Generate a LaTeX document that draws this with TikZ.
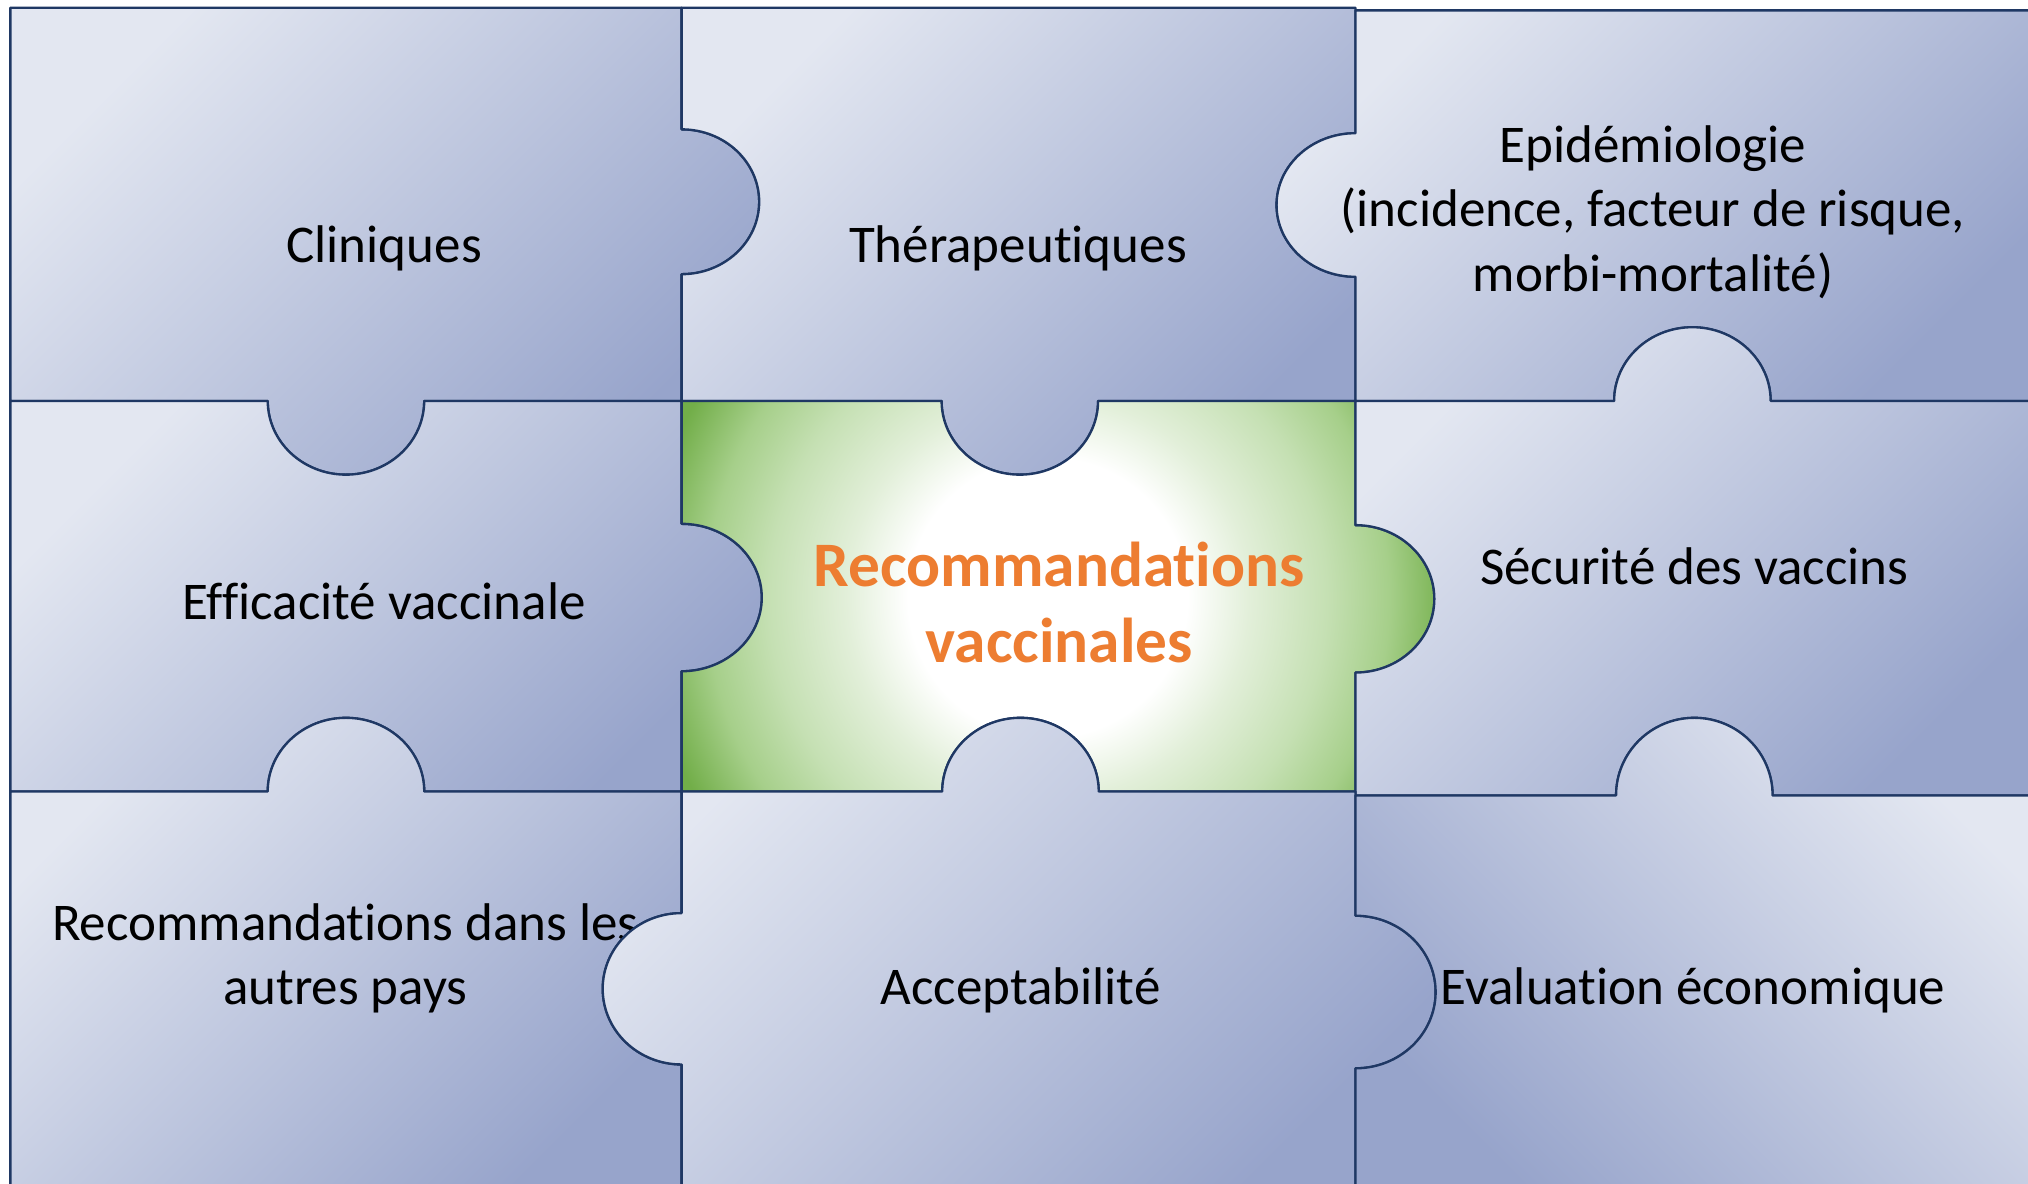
\documentclass[tikz,border=0pt]{standalone}
\usepackage{fontspec}
\setmainfont{Carlito}[Ligatures={NoCommon,NoRequired,NoContextual},RawFeature={-liga;-clig;-calt;-dlig}]
\newcommand\tix{t\kern0pt i}
\definecolor{edge}{HTML}{1F3864}
\definecolor{lite}{HTML}{E3E7F1}
\definecolor{dark}{HTML}{97A4CB}
\definecolor{orng}{HTML}{ED7D31}
\definecolor{gA}{HTML}{E2EFD9}
\definecolor{gB}{HTML}{C5E0B3}
\definecolor{gC}{HTML}{A6CF8A}
\definecolor{gD}{HTML}{72AE49}
\pgfdeclareradialshading{greenglow}{\pgfpoint{0bp}{0bp}}{color(0bp)=(white); color(9bp)=(white); color(13bp)=(gA); color(18bp)=(gB); color(22bp)=(gC); color(26bp)=(gD); color(50bp)=(gD)}
\tikzset{
  piece/.style={draw=edge, line width=1.8pt, line join=round, top color=lite, bottom color=dark, shading angle=45},
  pieceflip/.style={piece, shading angle=-45},
  greenedge/.style={draw=edge, line width=1.8pt, line join=round},
  lbl/.style={font=\fontsize{41}{50}\selectfont, align=center, inner sep=0pt, text=black},
  bigl/.style={font=\fontsize{49}{59}\selectfont\bfseries, align=center, inner sep=0pt, text=orng}
}
\begin{document}
\begin{tikzpicture}[x=1pt,y=-1pt]
\useasboundingbox (0,0) rectangle (1568,915);
\fill[white] (0,0) rectangle (1568,915);
\begin{scope}
\clip (0,0) rectangle (1568,915);
% Cliniques
\path[piece] (8,6) -- (527,6) -- (527,100) arc[start angle=270,end angle=450,x radius=60,y radius=56] -- (527,310) -- (328,310) arc[start angle=0,end angle=180,x radius=60.5,y radius=57] -- (8,310) -- cycle;
\node[lbl] (cliniques) at (297,192) {Cliniques};
% Therapeutiques
\path[piece] (527,6) -- (1048,6) -- (1048,103) arc[start angle=270,end angle=90,x radius=61,y radius=55.5] -- (1048,310) -- (849,310) arc[start angle=0,end angle=180,x radius=60.5,y radius=57] -- (527,310) -- (527,212) arc[start angle=90,end angle=-90,x radius=60,y radius=56] -- cycle;
\node[lbl] (therap) at (787,192) {Thérapeu\tix ques};
% Epidemiologie
\path[piece] (1048,8) -- (1572,8) -- (1572,310) -- (1369,310) arc[start angle=0,end angle=-180,x radius=60.5,y radius=57] -- (1048,310) -- (1048,214) arc[start angle=90,end angle=270,x radius=61,y radius=55.5] -- cycle;
\node[lbl] (epid) at (1278,164) {Epidémiologie\\(incidence, facteur de risque,\\morbi-mortalité)};
% Efficacite
\path[piece] (8,310) -- (207,310) arc[start angle=180,end angle=0,x radius=60.5,y radius=57] -- (527,310) -- (527,405) arc[start angle=270,end angle=450,x radius=62,y radius=57] -- (527,612) -- (328,612) arc[start angle=0,end angle=-180,x radius=60.5,y radius=57] -- (8,612) -- cycle;
\node[lbl] (effic) at (297,465) {Efficacité vaccinale};
% Centre
\begin{scope}
\clip (527,310) -- (728,310) arc[start angle=180,end angle=0,x radius=60.5,y radius=57] -- (1048,310) -- (1048,406) arc[start angle=270,end angle=450,x radius=61,y radius=57] -- (1048,612) -- (849.5,612) arc[start angle=0,end angle=-180,x radius=60.5,y radius=57] -- (527,612) -- (527,519) arc[start angle=90,end angle=-90,x radius=62,y radius=57] -- cycle;
\shade[shading=greenglow] (510,162) rectangle (1110,762);
\end{scope}
\path[greenedge] (527,310) -- (728,310) arc[start angle=180,end angle=0,x radius=60.5,y radius=57] -- (1048,310) -- (1048,406) arc[start angle=270,end angle=450,x radius=61,y radius=57] -- (1048,612) -- (849.5,612) arc[start angle=0,end angle=-180,x radius=60.5,y radius=57] -- (527,612) -- (527,519) arc[start angle=90,end angle=-90,x radius=62,y radius=57] -- cycle;
\node[bigl] (reco) at (819,466) {Recommanda\tix ons\\vaccinales};
% Securite
\path[piece] (1048,310) -- (1248,310) arc[start angle=180,end angle=360,x radius=60.5,y radius=57] -- (1572,310) -- (1572,615) -- (1370.5,615) arc[start angle=0,end angle=-180,x radius=60.5,y radius=60] -- (1048,615) -- (1048,520) arc[start angle=90,end angle=-90,x radius=61,y radius=57] -- cycle;
\node[lbl] (secu) at (1310,438) {Sécurité des vaccins};
% Recommandations autres pays
\path[piece] (8,612) -- (207,612) arc[start angle=180,end angle=360,x radius=60.5,y radius=57] -- (527,612) -- (527,706) arc[start angle=270,end angle=90,x radius=61,y radius=58.5] -- (527,919) -- (8,919) -- cycle;
\node[lbl] (autres) at (267,741) {Recommanda\tix ons dans les\\autres pays};
% Acceptabilite
\path[piece] (527,612) -- (728.5,612) arc[start angle=180,end angle=360,x radius=60.5,y radius=57] -- (1048,612) -- (1048,708) arc[start angle=270,end angle=450,x radius=62,y radius=59] -- (1048,919) -- (527,919) -- (527,823) arc[start angle=90,end angle=270,x radius=61,y radius=58.5] -- cycle;
\node[lbl] (accept) at (789,766) {Acceptabilité};
% Evaluation
\path[pieceflip] (1048,615) -- (1249.5,615) arc[start angle=180,end angle=360,x radius=60.5,y radius=60] -- (1572,615) -- (1572,919) -- (1048,919) -- (1048,826) arc[start angle=90,end angle=-90,x radius=62,y radius=59] -- cycle;
\node[lbl] (evalu) at (1309,766) {Evalua\tix on économique};
\end{scope}
\end{tikzpicture}
\end{document}
